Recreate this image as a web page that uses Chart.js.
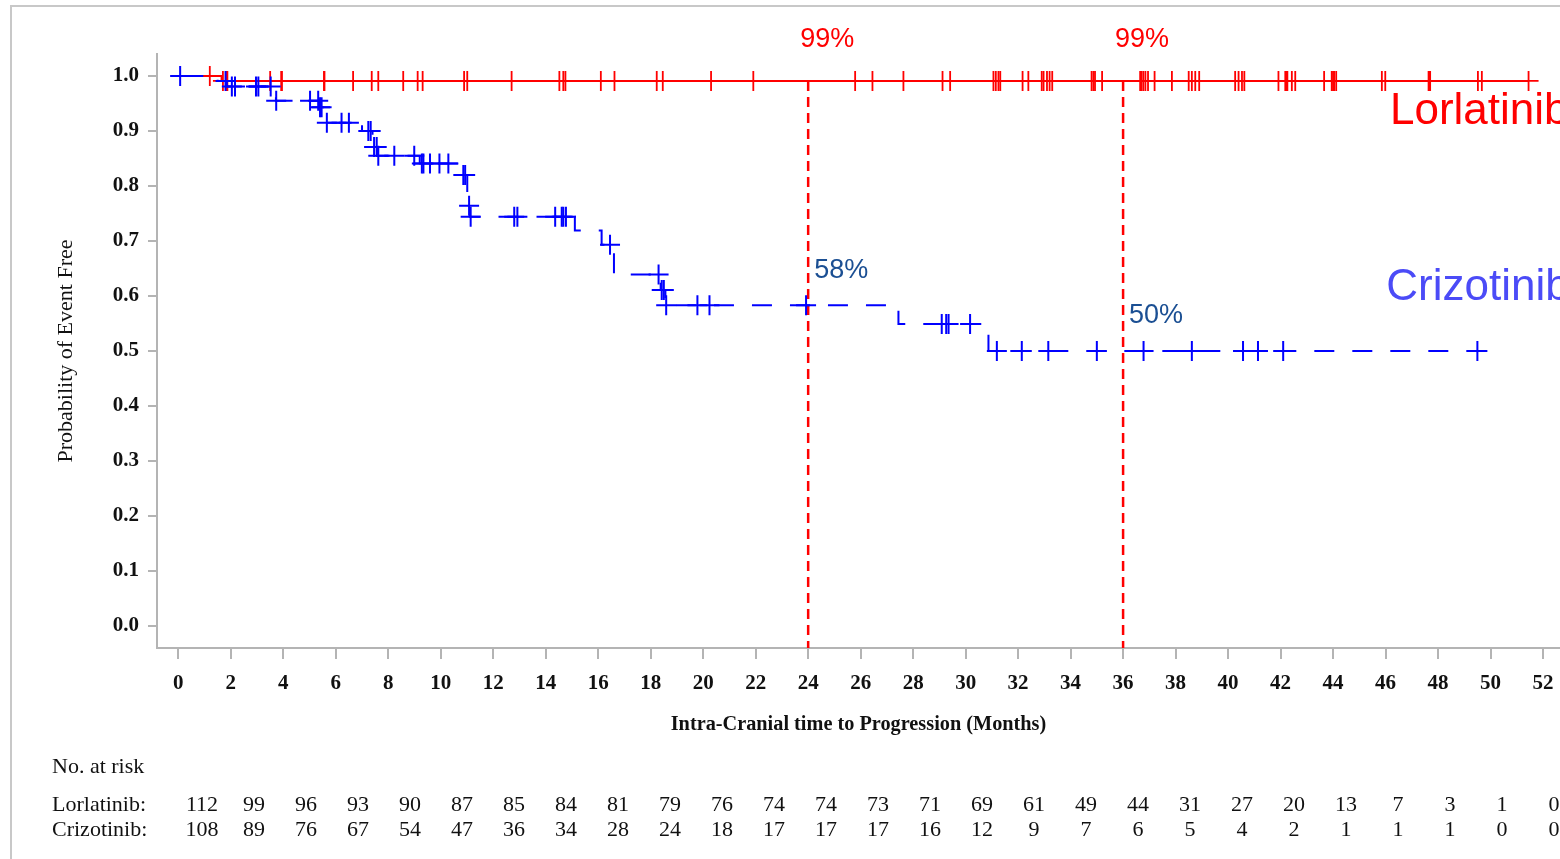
<!DOCTYPE html>
<html>
<head>
<meta charset="utf-8">
<script src="https://cdn.jsdelivr.net/npm/chart.js@4.4.1/dist/chart.umd.min.js"></script>
<style>
html, body { margin: 0; padding: 0; background: #fff; overflow: hidden; }
#wrap { position: relative; width: 1560px; height: 859px; }
</style>
</head>
<body>
<div id="wrap"><canvas id="km" width="1560" height="859"></canvas></div>
<script>
// Axis ticks
const xTickValues = [0, 2, 4, 6, 8, 10, 12, 14, 16, 18, 20, 22, 24, 26, 28, 30, 32, 34, 36, 38, 40, 42, 44, 46, 48, 50, 52];
const yTickValues = [0, 0.1, 0.2, 0.3, 0.4, 0.5, 0.6, 0.7, 0.8, 0.9, 1.0];

const armNames = ['Lorlatinib', 'Crizotinib'];

// Lorlatinib: step times (months) and event-free probability after each step
const lorStepTimes = [0, 1.65];
const lorStepSurv = [1.0, 0.991];
const lorFollowUpEnd = 51.45;
const lorCensorTimes = [1.2, 1.7, 1.82, 1.87, 3.5, 3.92, 3.95, 5.55, 5.57, 6.66, 7.37, 7.62, 8.57, 9.12, 9.31,
  10.89, 11.01, 12.7, 14.52, 14.67, 14.75, 16.1, 16.62, 18.23, 18.46, 20.3, 21.91, 25.79, 26.45, 27.63,
  29.12, 29.41, 31.06, 31.15, 31.25, 31.32, 32.17, 32.39, 32.9, 32.97, 33.1, 33.2, 33.3, 34.8, 34.87, 34.93,
  35.2, 36.65, 36.7, 36.77, 36.85, 36.95, 37.2, 37.86, 38.5, 38.62, 38.75, 38.9, 40.27, 40.4, 40.53, 40.62,
  41.92, 42.18, 42.22, 42.26, 42.43, 42.56, 43.66, 43.95, 44.0, 44.04, 44.12, 45.86, 45.99, 47.64, 47.67,
  47.7, 49.52, 49.67, 51.45];

// Crizotinib: step times (months) and event-free probability after each step
const crizStepTimes = [0, 1.5, 1.85, 3.72, 5.36, 5.62, 7.0, 7.4, 7.58, 9.2, 10.7, 11.01, 11.11, 15.11, 16.13, 16.6, 18.38, 18.56, 27.44, 30.87];
const crizStepSurv = [1.0, 0.991, 0.981, 0.955, 0.943, 0.915, 0.900, 0.871, 0.855, 0.841, 0.820, 0.764, 0.744, 0.719, 0.693, 0.639, 0.611, 0.583, 0.549, 0.500];
const crizFollowUpEnd = 49.5;
const crizCensorTimes = [0.07, 1.8, 2.04, 2.16, 2.96, 3.05, 3.52, 3.73, 5.02, 5.33, 5.4, 5.46, 5.66, 6.22, 6.5,
  7.24, 7.33, 7.46, 7.56, 7.62, 8.23, 8.99, 9.28, 9.34, 9.59, 9.95, 10.29, 10.86, 10.93, 11.08, 11.14, 12.8,
  12.92, 14.36, 14.61, 14.67, 14.77, 16.45, 18.3, 18.42, 18.5, 18.59, 19.78, 20.24, 23.92, 29.09, 29.26,
  29.35, 30.17, 31.19, 32.14, 33.15, 35.0, 36.78, 38.62, 40.57, 41.14, 42.1, 49.5];

// Landmark time points marked with dashed lines
const landmarkMonths = [24, 36];

// Number at risk at each x tick
const atRiskLor = [112, 99, 96, 93, 90, 87, 85, 84, 81, 79, 76, 74, 74, 73, 71, 69, 61, 49, 44, 31, 27, 20, 13, 7, 3, 1, 0];
const atRiskCriz = [108, 89, 76, 67, 54, 47, 36, 34, 28, 24, 18, 17, 17, 17, 16, 12, 9, 7, 6, 5, 4, 2, 1, 1, 1, 0, 0];

// ---- helpers ----
function survivalAt(times, surv, t) {
  let s = surv[0];
  for (let i = 0; i < times.length; i++) if (times[i] <= t) s = surv[i];
  return s;
}
function curvePoints(times, surv, end) {
  const pts = times.map((t, i) => ({ x: t, y: surv[i] }));
  pts.push({ x: end, y: surv[surv.length - 1] });
  return pts;
}
function censorPoints(censors, times, surv) {
  return censors.map(t => ({ x: t, y: survivalAt(times, surv, t) }));
}
const pct = v => Math.round(v * 100) + '%';

const RED = '#ff0000';
const BLUE = '#0000ff';
const AXIS_GREY = '#b4b4b4';
const SERIF = '"Liberation Serif", "Times New Roman", serif';
const SANS = '"Liberation Sans", Arial, sans-serif';

const landmarkSets = landmarkMonths.map(m => ({
  type: 'scatter',
  data: [{ x: m, y: survivalAt(lorStepTimes, lorStepSurv, m) }, { x: m, y: -0.04 }],
  showLine: true,
  borderColor: RED,
  borderWidth: 2.5,
  borderDash: [10, 6],
  pointRadius: 0,
  order: 2
}));

const overlay = {
  id: 'kmOverlay',
  beforeDraw(chart) {
    const ctx = chart.ctx;
    ctx.save();
    ctx.fillStyle = '#fff';
    ctx.fillRect(0, 0, chart.width, chart.height);
    ctx.strokeStyle = '#c8c8c8';
    ctx.lineWidth = 2;
    ctx.beginPath();
    ctx.moveTo(11, chart.height);
    ctx.lineTo(11, 6);
    ctx.lineTo(chart.width, 6);
    ctx.stroke();
    ctx.restore();
  },
  afterDraw(chart) {
    const { ctx, scales: { x, y } } = chart;
    ctx.save();
    ctx.textBaseline = 'middle';

    // percentages at the landmark lines
    ctx.font = '27px ' + SANS;
    landmarkMonths.forEach(m => {
      const sl = survivalAt(lorStepTimes, lorStepSurv, m);
      const sc = survivalAt(crizStepTimes, crizStepSurv, m);
      ctx.fillStyle = RED;
      ctx.textAlign = 'center';
      ctx.fillText(pct(sl), x.getPixelForValue(m) + 19, y.getPixelForValue(sl) - 41);
      ctx.fillStyle = '#1b4f93';
      ctx.textAlign = 'left';
      ctx.fillText(pct(sc), x.getPixelForValue(m) + 6, y.getPixelForValue(sc) - 35);
    });

    // arm names beside the curves
    ctx.font = '44px ' + SANS;
    ctx.textAlign = 'left';
    ctx.fillStyle = RED;
    ctx.fillText(armNames[0], x.getPixelForValue(46.17), y.getPixelForValue(0.935));
    ctx.fillStyle = '#4b4bf7';
    ctx.fillText(armNames[1], x.getPixelForValue(46.03), y.getPixelForValue(0.614));

    // number-at-risk table
    ctx.font = '22px ' + SERIF;
    ctx.fillStyle = '#111';
    ctx.textAlign = 'left';
    ctx.fillText('No. at risk', 52, 767);
    ctx.fillText(armNames[0] + ':', 52, 805);
    ctx.fillText(armNames[1] + ':', 52, 830);
    ctx.textAlign = 'center';
    atRiskLor.forEach((n, i) => ctx.fillText(String(n), 202 + i * 52, 805));
    atRiskCriz.forEach((n, i) => ctx.fillText(String(n), 202 + i * 52, 830));
    ctx.restore();
  }
};

new Chart(document.getElementById('km'), {
  type: 'scatter',
  data: {
    datasets: [
      {
        label: armNames[1] + ' censored',
        data: censorPoints(crizCensorTimes, crizStepTimes, crizStepSurv),
        pointStyle: 'cross',
        pointRadius: 10,
        pointBorderWidth: 2,
        pointBorderColor: BLUE,
        showLine: false,
        order: 0
      },
      {
        label: armNames[1],
        data: curvePoints(crizStepTimes, crizStepSurv, crizFollowUpEnd),
        showLine: true,
        stepped: true,
        borderColor: BLUE,
        borderWidth: 2,
        borderDash: [20, 18],
        borderDashOffset: 33,
        pointRadius: 0,
        order: 1
      },
      ...landmarkSets,
      {
        label: armNames[0] + ' censored',
        data: censorPoints(lorCensorTimes, lorStepTimes, lorStepSurv),
        pointStyle: 'cross',
        pointRadius: 10,
        pointBorderWidth: 1.8,
        pointBorderColor: RED,
        showLine: false,
        order: 3
      },
      {
        label: armNames[0],
        data: curvePoints(lorStepTimes, lorStepSurv, lorFollowUpEnd),
        showLine: true,
        stepped: true,
        borderColor: RED,
        borderWidth: 2,
        pointRadius: 0,
        order: 4
      }
    ]
  },
  options: {
    responsive: false,
    devicePixelRatio: 1,
    animation: false,
    events: [],
    layout: { autoPadding: false, padding: { top: 54, left: 0, right: 0, bottom: 0 } },
    plugins: { legend: { display: false }, tooltip: { enabled: false } },
    scales: {
      x: {
        type: 'linear',
        min: -0.812,
        max: 52.648,
        afterBuildTicks: s => { s.ticks = xTickValues.map(v => ({ value: v })); },
        afterFit: s => { s.height = 211; s.paddingLeft = 0; s.paddingRight = 0; },
        grid: { drawOnChartArea: false, drawTicks: true, tickLength: 11, tickColor: AXIS_GREY, color: AXIS_GREY, lineWidth: 2 },
        border: { display: true, color: AXIS_GREY, width: 2 },
        ticks: {
          autoSkip: false, maxRotation: 0, padding: 12, color: '#111',
          font: { family: SERIF, size: 21, weight: 'bold' },
          callback: v => String(v)
        },
        title: {
          display: true,
          text: 'Intra-Cranial time to Progression (Months)',
          color: '#111',
          font: { family: SERIF, size: 20.3, weight: 'bold' },
          padding: { top: 0, bottom: 122 }
        }
      },
      y: {
        type: 'linear',
        min: -0.04,
        max: 1.04,
        afterBuildTicks: s => { s.ticks = yTickValues.map(v => ({ value: v })); },
        afterFit: s => { s.width = 157; s.paddingTop = 0; s.paddingBottom = 0; },
        grid: { drawOnChartArea: false, drawTicks: true, tickLength: 9, tickColor: AXIS_GREY, color: AXIS_GREY, lineWidth: 2 },
        border: { display: true, color: AXIS_GREY, width: 2 },
        ticks: {
          padding: 9, color: '#111',
          font: { family: SERIF, size: 21, weight: 'bold' },
          callback: v => Number(v).toFixed(1)
        },
        title: {
          display: true,
          text: 'Probability of Event Free',
          color: '#111',
          font: { family: SERIF, size: 22, weight: 'normal' },
          padding: { top: 53, bottom: 0 }
        }
      }
    }
  },
  plugins: [overlay]
});
</script>
</body>
</html>
